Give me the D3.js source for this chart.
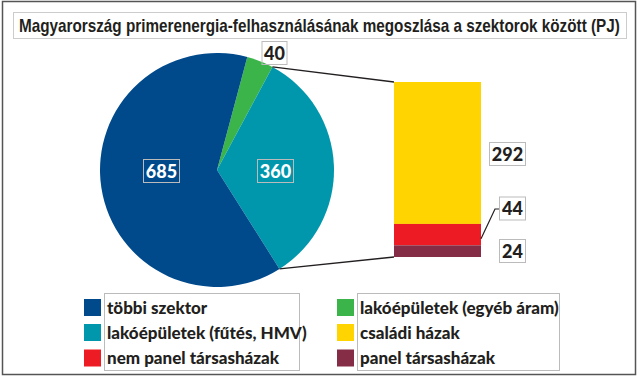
<!DOCTYPE html>
<html>
<head>
<meta charset="utf-8">
<script src="https://cdn.jsdelivr.net/npm/d3@7"></script>
<style>
  body { margin: 0; background: #fff; }
  svg { display: block; }
</style>
</head>
<body>
<script>
'use strict';

// pie data
const pieNames = ["lakóépületek (egyéb áram)", "lakóépületek (fűtés, HMV)", "többi szektor"];
const pieValues = [40, 360, 685];
const pieColors = ["#3bb54a", "#0097ad", "#004a8c"];

// breakdown of the residential heating slice
const barNames = ["családi házak", "nem panel társasházak", "panel társasházak"];
const barValues = [292, 44, 24];
const barColors = ["#ffd400", "#ed1c24", "#852d47"];

// legend order, two columns
const legendLeft = ["többi szektor", "lakóépületek (fűtés, HMV)", "nem panel társasházak"];
const legendRight = ["lakóépületek (egyéb áram)", "családi házak", "panel társasházak"];

const title = "Magyarország primerenergia-felhasználásának megoszlása a szektorok között (PJ)";

const W = 640, H = 379;
const numFont = "Lato, 'DejaVu Sans', sans-serif";

const colorOf = {};
pieNames.forEach((n, i) => colorOf[n] = pieColors[i]);
barNames.forEach((n, i) => colorOf[n] = barColors[i]);

const svg = d3.select("body").append("svg")
	.attr("width", W)
	.attr("height", H);

// outer frame
svg.append("rect")
	.attr("x", 2.5).attr("y", 1.5)
	.attr("width", 633).attr("height", 373)
	.attr("fill", "none")
	.attr("stroke", "#555")
	.attr("stroke-width", 1.5);

// title box; no narrow font is installed, so squeeze the text horizontally
svg.append("rect")
	.attr("x", 13.5).attr("y", 12.5)
	.attr("width", 613).attr("height", 26)
	.attr("fill", "none")
	.attr("stroke", "#ccc");
const titleG = svg.append("g");
const titleText = titleG.append("text")
	.attr("font-family", "'Liberation Sans', Arial, sans-serif")
	.attr("font-weight", "bold")
	.attr("font-size", 18)
	.attr("fill", "#231f20")
	.text(title);
const titleSqueeze = 601 / titleText.node().getComputedTextLength();
titleG.attr("transform", `translate(19,32) scale(${titleSqueeze},1)`);

// pie
const cx = 217, cy = 170, r = 117;
const startDeg = 15;
const pie = d3.pie().sort(null)
	.startAngle(startDeg * Math.PI / 180)
	.endAngle((startDeg + 360) * Math.PI / 180);
const arcs = pie(pieValues);
const arc = d3.arc().innerRadius(0).outerRadius(r);

const pieG = svg.append("g").attr("transform", `translate(${cx},${cy})`);
pieG.selectAll("path")
	.data(arcs)
	.enter()
	.append("path")
	.attr("d", arc)
	.attr("fill", (d, i) => pieColors[i]);

// stacked bar for the teal slice
const barX = 394, barW = 87, barTop = 82, barBottom = 257;
const barScale = d3.scaleLinear()
	.domain([0, d3.sum(barValues)])
	.range([barTop, barBottom]);
let acc = 0;
const barSegs = barValues.map((v, i) => {
	const seg = { name: barNames[i], value: v, y0: acc, y1: acc + v, color: barColors[i] };
	acc += v;
	return seg;
});
svg.selectAll("rect.seg")
	.data(barSegs)
	.enter()
	.append("rect")
	.attr("class", "seg")
	.attr("x", barX)
	.attr("width", barW)
	.attr("y", d => barScale(d.y0))
	.attr("height", d => barScale(d.y1) - barScale(d.y0))
	.attr("fill", d => d.color);

// connector lines from the teal slice edges to the bar
const teal = arcs[1];
const edgePt = a => [cx + r * Math.sin(a), cy - r * Math.cos(a)];
const p0 = edgePt(teal.startAngle), p1 = edgePt(teal.endAngle);
svg.append("line")
	.attr("x1", p0[0]).attr("y1", p0[1])
	.attr("x2", barX).attr("y2", barScale(0))
	.attr("stroke", "#231f20").attr("stroke-width", 1.3);
svg.append("line")
	.attr("x1", p1[0]).attr("y1", p1[1])
	.attr("x2", barX).attr("y2", barScale(d3.sum(barValues)))
	.attr("stroke", "#231f20").attr("stroke-width", 1.3);

// boxed value label
function valueLabel(x, y, text, color, boxW) {
	const g = svg.append("g");
	g.append("rect")
		.attr("x", x - boxW / 2 + 0.5).attr("y", y - 11.5)
		.attr("width", boxW).attr("height", 23)
		.attr("fill", "none")
		.attr("stroke", "#bbb")
		.attr("stroke-width", 1);
	g.append("text")
		.attr("x", x + 0.5).attr("y", y + 6.5)
		.attr("text-anchor", "middle")
		.attr("font-family", numFont)
		.attr("font-weight", 900)
		.attr("font-size", 18)
		.attr("fill", color)
		.text(text);
}

// pie labels
valueLabel(161, 171, pieValues[2], "#fff", 36);
valueLabel(275, 171, pieValues[1], "#fff", 36);
valueLabel(274, 53, pieValues[0], "#231f20", 25);

// bar labels
valueLabel(507, 154, barValues[0], "#231f20", 36);
valueLabel(512, 208.5, barValues[1], "#231f20", 26);
valueLabel(512, 251, barValues[2], "#231f20", 26);
// leader for the small red segment
svg.append("polyline")
	.attr("points", [[barX + barW, (barScale(barSegs[1].y0) + barScale(barSegs[1].y1)) / 2 + 4], [495, 209], [499, 209]].map(p => p.join(",")).join(" "))
	.attr("fill", "none")
	.attr("stroke", "#231f20")
	.attr("stroke-width", 1.2);

// legend
const rowY = [307.5, 332.5, 358];
function legendCol(names, sqX, boxX, boxW) {
	svg.append("rect")
		.attr("x", boxX + 0.5).attr("y", 293.5)
		.attr("width", boxW).attr("height", 77)
		.attr("fill", "none")
		.attr("stroke", "#bbb");
	names.forEach((n, i) => {
		svg.append("rect")
			.attr("x", sqX).attr("y", rowY[i] - 8.5)
			.attr("width", 17).attr("height", 17)
			.attr("fill", colorOf[n]);
		svg.append("text")
			.attr("x", boxX + 3).attr("y", rowY[i] + 6)
			.attr("font-family", numFont)
			.attr("font-weight", 900)
			.attr("font-size", 17)
			.attr("fill", "#231f20")
			.text(n);
	});
}
legendCol(legendLeft, 84, 104, 195);
legendCol(legendRight, 337, 357, 202);
</script>
</body>
</html>
